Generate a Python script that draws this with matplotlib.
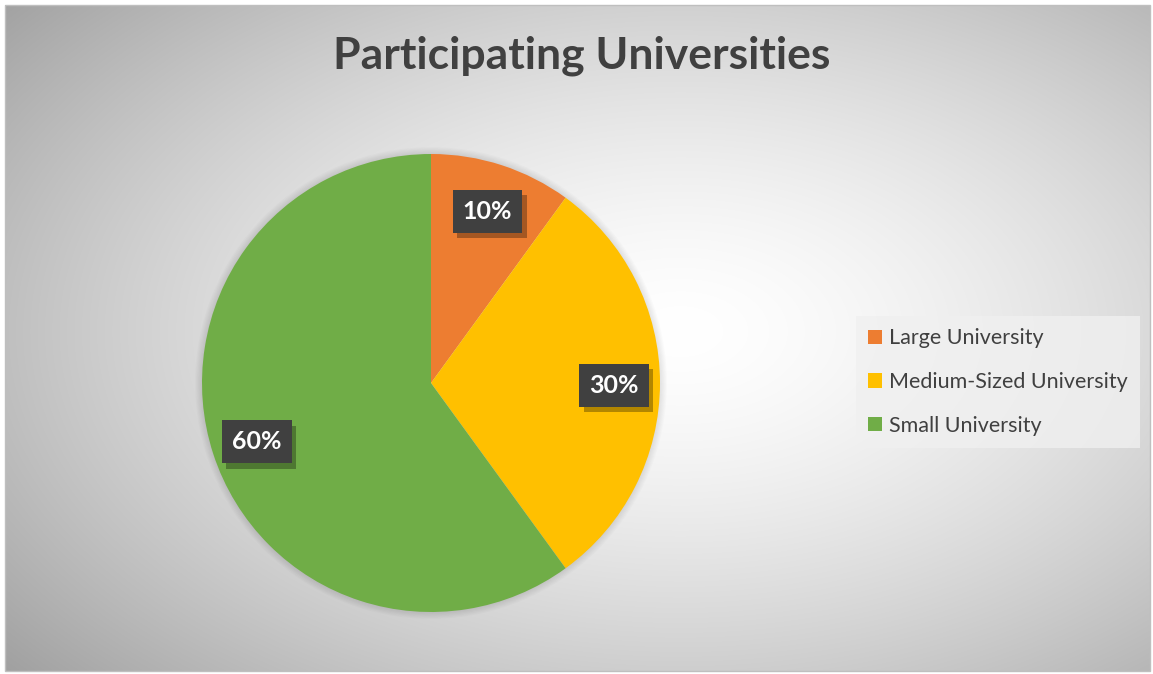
import numpy as np
import matplotlib
matplotlib.use("Agg")
import matplotlib.pyplot as plt
import matplotlib.patheffects as pe
from matplotlib.patches import Rectangle, Circle, Patch
from matplotlib.transforms import IdentityTransform

plt.rcParams["font.family"] = ["Lato", "DejaVu Sans"]
plt.rcParams["hatch.linewidth"] = 2.0
plt.rcParams["hatch.color"] = "#5a5a5a"

title = "Participating Universities"
categories = ["Large University", "Medium-Sized University", "Small University"]
shares = [10, 30, 60]
colors = ["#ed7d31", "#ffc000", "#70ad47"]

W, H = 1153, 674
fig = plt.figure(figsize=(W / 100, H / 100), dpi=100)

# chart area background: soft radial gradient, light in the middle
bg = fig.add_axes([0, 0, 1, 1])
bg.set_xlim(0, W)
bg.set_ylim(H, 0)
bg.axis("off")
yy, xx = np.mgrid[0:H, 0:W]
r = np.sqrt(((xx - 680) / 700.0) ** 2 + ((yy - 330) / 420.0) ** 2)
val = 1.0 - 0.26 * np.clip(r, 0, 1.3) ** 1.5
img = np.dstack([val, val, val])
bg.imshow(img, extent=(5, 1150, 671, 5), aspect="auto", zorder=0)
bg.add_patch(Rectangle((5, 5), 1145, 666, fill=False, ec="#bfbfbf", lw=1, zorder=1))

fig.text(582 / W, 1 - 56 / H, title, ha="center", va="center",
         fontsize=32, fontweight="bold", color="#404040")

# pie, centred at (431, 383) px with radius 229 px
R = 229
half = 260
ax = fig.add_axes([(431 - half) / W, (H - 383 - half) / H, 2 * half / W, 2 * half / H])

wedges, _ = ax.pie(shares, colors=colors, startangle=90, counterclock=False,
                   radius=1, wedgeprops=dict(linewidth=0), frame=False)
ax.set_xlim(-half / R, half / R)
ax.set_ylim(-half / R, half / R)
ax.set_aspect("equal")
ax.axis("off")
for w in wedges:
    w.set_zorder(2)

# faint shadow around the pie
for i in range(6):
    ax.add_patch(Circle((0, 0), 1 + 0.005 * (i + 1), fc="black", ec="none",
                        alpha=0.015, zorder=0))

labels = []
start = 90.0
for share in shares:
    mid = np.deg2rad(start - share * 3.6 / 2)
    start -= share * 3.6
    x, y = 0.8 * np.cos(mid), 0.8 * np.sin(mid)
    t = ax.text(x, y - 0.01, f"{share}%", ha="center", va="center", fontsize=18,
                fontweight="bold", color="white", zorder=6,
                bbox=dict(boxstyle="square,pad=0.4", fc="#404040", ec="none", lw=0))
    t.get_bbox_patch().set_path_effects([
        pe.SimplePatchShadow(offset=(3, -4), shadow_rgbFace="black", alpha=0.3),
        pe.Normal()])
    labels.append(t)

handles = [Patch(fc=c, ec="none") for c in colors]
leg = fig.legend(handles, categories, loc="center left",
                 bbox_to_anchor=(856 / W, 1 - 382 / H), fontsize=15.5,
                 labelspacing=1.1, handlelength=0.64, handleheight=0.64,
                 handletextpad=0.35, borderpad=0.55, borderaxespad=0,
                 frameon=True, fancybox=False, labelcolor="#404040")
leg.get_frame().set_facecolor("#f0f0f0")
leg.get_frame().set_alpha(0.8)
leg.get_frame().set_edgecolor("none")

# dotted texture on the label boxes
fig.canvas.draw()
for t in labels:
    bb = t.get_bbox_patch().get_window_extent()
    ax.add_patch(Rectangle((bb.x0, bb.y0), bb.width, bb.height,
                           transform=IdentityTransform(), fc="none",
                           ec="#5a5a5a", lw=0, hatch="..", zorder=5.5))

fig.savefig("out.png", dpi=100)
